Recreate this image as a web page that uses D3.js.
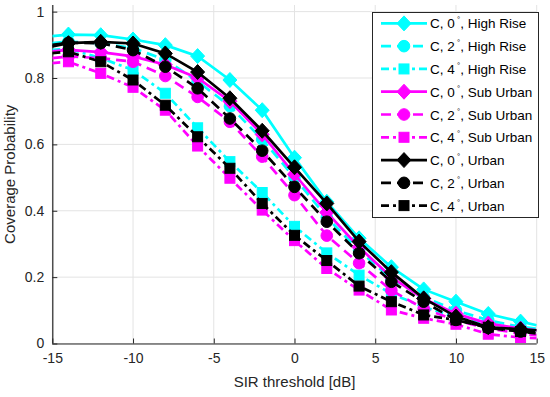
<!DOCTYPE html>
<html><head><meta charset="utf-8">
<script src="https://cdn.jsdelivr.net/npm/d3@7"></script>
<style>body{margin:0;background:#fff}svg{display:block}text{font-family:"Liberation Sans",Arial,Helvetica,sans-serif}</style>
</head><body><svg id="c" width="550" height="397"></svg>
<script>
const xVals = [-15,-14,-12,-10,-8,-6,-4,-2,0,2,4,6,8,10,12,14,15];
const c0HighRise = [0.926,0.931,0.929,0.916,0.899,0.866,0.794,0.703,0.560,0.427,0.317,0.230,0.163,0.126,0.089,0.066,0.055];
const c2HighRise = [0.905,0.910,0.905,0.890,0.855,0.790,0.715,0.615,0.500,0.380,0.280,0.195,0.140,0.100,0.070,0.050,0.045];
const c4HighRise = [0.885,0.888,0.860,0.824,0.754,0.650,0.548,0.455,0.353,0.273,0.206,0.150,0.110,0.080,0.060,0.045,0.040];
const c0SubUrban = [0.880,0.885,0.878,0.865,0.840,0.800,0.730,0.630,0.510,0.395,0.290,0.200,0.135,0.090,0.060,0.045,0.040];
const c2SubUrban = [0.860,0.865,0.860,0.849,0.806,0.743,0.668,0.563,0.447,0.325,0.242,0.160,0.105,0.070,0.045,0.030,0.025];
const c4SubUrban = [0.845,0.849,0.814,0.772,0.703,0.595,0.498,0.402,0.310,0.226,0.161,0.101,0.076,0.058,0.028,0.018,0.016];
const c0Urban = [0.895,0.905,0.909,0.904,0.874,0.818,0.739,0.641,0.531,0.422,0.307,0.215,0.136,0.081,0.049,0.043,0.040];
const c2Urban = [0.900,0.906,0.905,0.884,0.834,0.769,0.678,0.581,0.472,0.367,0.272,0.186,0.126,0.071,0.047,0.036,0.033];
const c4Urban = [0.875,0.879,0.849,0.794,0.718,0.623,0.528,0.422,0.326,0.250,0.173,0.126,0.086,0.071,0.049,0.036,0.030];
const seriesNames = ["High Rise","High Rise","High Rise","Sub Urban","Sub Urban","Sub Urban","Urban","Urban","Urban"];
const seriesAngles = ["0","2","4","0","2","4","0","2","4"];
const seriesColors = ["#00ffff","#00ffff","#00ffff","#ff00ff","#ff00ff","#ff00ff","#000000","#000000","#000000"];
const seriesMarkers = ["diamond","circle","square","diamond","circle","square","diamond","circle","square"];
const seriesDash = ["solid","dash","dashdot","solid","dash","dashdot","solid","dash","dashdot"];
const seriesValues = [c0HighRise,c2HighRise,c4HighRise,c0SubUrban,c2SubUrban,c4SubUrban,c0Urban,c2Urban,c4Urban];
const xTicks = [-15,-10,-5,0,5,10,15];
const yTicks = [0,0.2,0.4,0.6,0.8,1];

const svg = d3.select("#c");
const L=52.3, R=536.7, T=5, B=343.5;
const x = d3.scaleLinear().domain([-15,15]).range([L,R]);
const y = d3.scaleLinear().domain([0,1.02]).range([B,T]);
const gridC="#e3e3e3", axC="#262626";

// grid
svg.append("g").selectAll("line").data(xTicks).join("line")
  .attr("x1",d=>x(d)).attr("x2",d=>x(d)).attr("y1",T).attr("y2",B)
  .attr("stroke",gridC).attr("stroke-width",1);
svg.append("g").selectAll("line").data(yTicks).join("line")
  .attr("x1",L).attr("x2",R).attr("y1",d=>y(d)).attr("y2",d=>y(d))
  .attr("stroke",gridC).attr("stroke-width",1);

// axes
const xa = svg.append("g").attr("transform",`translate(0,${B})`)
  .call(d3.axisBottom(x).tickValues(xTicks).tickSizeInner(-5).tickSizeOuter(0).tickPadding(10).tickFormat(d=>d));
const ya = svg.append("g").attr("transform",`translate(${L},0)`)
  .call(d3.axisLeft(y).tickValues(yTicks).tickSizeInner(-5).tickSizeOuter(0).tickPadding(8).tickFormat(d=>d));
[xa,ya].forEach(g=>{
  g.select(".domain").attr("stroke",axC).attr("stroke-width",1.2);
  g.selectAll(".tick line").attr("stroke",axC);
  g.selectAll(".tick text").attr("fill","#262626").style("font-size","14px").style("font-family","Liberation Sans, Arial, sans-serif");
});
xa.select(".domain").attr("d",`M${L},0.5H${R}`);
ya.select(".domain").attr("d",`M0.5,${B}V${T}`);

svg.append("text").attr("x",(L+R)/2).attr("y",387).attr("text-anchor","middle")
  .style("font-size","15px").attr("fill","#262626").text("SIR threshold [dB]");
svg.append("text").attr("transform",`translate(15,${(T+B)/2}) rotate(-90)`).attr("text-anchor","middle")
  .style("font-size","15px").attr("fill","#262626").text("Coverage Probability");

svg.append("defs").append("clipPath").attr("id","clip").append("rect")
  .attr("x",L).attr("y",T-10).attr("width",R-L).attr("height",B-T+10);

const dashMap = {solid:null, dash:"10,6", dashdot:"8,4,3,4"};
function drawMarker(g, type, cx, cy, color){
  if(type==="diamond"){
    g.append("path").attr("d",`M${cx},${cy-7.5}L${cx+7},${cy}L${cx},${cy+7.5}L${cx-7},${cy}Z`).attr("fill",color).attr("stroke",color);
  } else if(type==="circle"){
    g.append("circle").attr("cx",cx).attr("cy",cy).attr("r",5.8).attr("fill",color).attr("stroke",color);
  } else {
    g.append("rect").attr("x",cx-5).attr("y",cy-5).attr("width",10).attr("height",10).attr("fill",color).attr("stroke",color);
  }
}
const line = d3.line().x(d=>x(d[0])).y(d=>y(d[1]));
const plot = svg.append("g").attr("clip-path","url(#clip)");
seriesValues.forEach((vals,i)=>{
  const pts = xVals.map((xv,j)=>[xv,vals[j]]);
  plot.append("path").attr("d",line(pts)).attr("fill","none")
    .attr("stroke",seriesColors[i]).attr("stroke-width",2.7)
    .attr("stroke-dasharray",dashMap[seriesDash[i]]);
  const mg = plot.append("g");
  pts.filter(p=>p[0]>-15&&p[0]<15).forEach(p=>drawMarker(mg,seriesMarkers[i],x(p[0]),y(p[1]),seriesColors[i]));
});

// legend
const lg = svg.append("g");
const lx=372, ly=12, lw=166, lh=205, rowH=lh/9;
lg.append("rect").attr("x",lx+0.5).attr("y",ly+0.5).attr("width",lw).attr("height",lh)
  .attr("fill","#fff").attr("stroke","#262626").attr("stroke-width",1);
seriesValues.forEach((v,i)=>{
  const cy = ly + rowH*(i+0.5);
  lg.append("line").attr("x1",381).attr("x2",427).attr("y1",cy).attr("y2",cy)
    .attr("stroke",seriesColors[i]).attr("stroke-width",2.7).attr("stroke-dasharray",dashMap[seriesDash[i]]);
  drawMarker(lg,seriesMarkers[i],404,cy,seriesColors[i]);
  const t = lg.append("text").attr("x",430).attr("y",cy+5).style("font-size","13.5px").attr("fill","#000");
  t.append("tspan").text("C, "+seriesAngles[i]);
  t.append("tspan").attr("dy",-6).style("font-size","8px").text(" °");
  t.append("tspan").attr("dy",6).text(", "+seriesNames[i]);
});
</script></body></html>
